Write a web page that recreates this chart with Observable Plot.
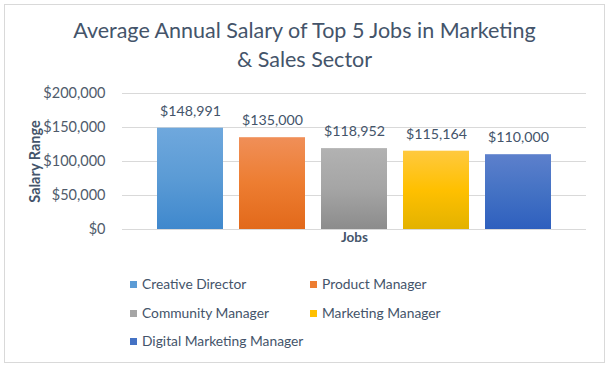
<!DOCTYPE html>
<html>
<head>
<meta charset="utf-8">
<script src="https://cdn.jsdelivr.net/npm/d3@7"></script>
<script src="https://cdn.jsdelivr.net/npm/@observablehq/plot@0.6"></script>
<style>
  html, body { margin: 0; padding: 0; background: #fff; }
  body { width: 612px; height: 370px; position: relative; overflow: hidden; font-family: Lato, "Open Sans", sans-serif; color: #44546a; }
  #frame { position: absolute; left: 4px; top: 4px; width: 601px; height: 359px; box-sizing: border-box; border: 1px solid #d9d9d9; }
  #title { position: absolute; left: 4px; width: 601px; top: 16px; text-align: center; font-size: 21.5px; line-height: 28.5px; color: #44546a; }
  #chart { position: absolute; left: 0; top: 0; }
  .lg { position: absolute; font-size: 13.8px; line-height: 16px; color: #44546a; white-space: nowrap; }
  .lg i { position: absolute; left: -12px; top: 4.5px; width: 7px; height: 7px; }
</style>
</head>
<body>
<div id="frame"></div>
<div id="title">Average Annual Salary of Top 5 Jobs in Marketing<br>&amp; Sales Sector</div>
<div id="chart"></div>
<div id="legend"></div>
<script>
const jobs = ["Creative Director", "Product Manager", "Community Manager", "Marketing Manager", "Digital Marketing Manager"];
const salaries = [148991, 135000, 118952, 115164, 110000];
const yTicks = [0, 50000, 100000, 150000, 200000];
const baseColors = ["#5b9bd5", "#ed7d31", "#a5a5a5", "#ffc000", "#4472c4"];
const topColors = ["#6fa8dd", "#f08f58", "#b2b2b2", "#ffc93f", "#5d80cc"];
const bottomColors = ["#3f88cd", "#e2691a", "#8c8c8c", "#e3b200", "#2e5fbe"];
const yTitle = "Salary Range";
const xTitle = "Jobs";

const data = jobs.map((job, i) => ({job, salary: salaries[i], fill: `url(#grad${i})`}));
const money = d => "$" + d3.format(",")(d);

const svg = Plot.plot({
  width: 612,
  height: 260,
  marginTop: 93,
  marginBottom: 31,
  marginLeft: 122,
  marginRight: 26,
  style: {fontFamily: "Lato, 'Open Sans', sans-serif", color: "#44546a", background: "transparent"},
  x: {type: "band", domain: jobs, range: [147.75, 560.25], paddingInner: 0.2, paddingOuter: 0.1, axis: null},
  y: {domain: [0, 200000], axis: null},
  color: {type: "identity"},
  marks: [
    Plot.gridY(yTicks, {stroke: "#d9d9d9", strokeOpacity: 1}),
    Plot.axisY(yTicks, {tickSize: 0, tickPadding: 17, tickFormat: money, fontSize: 14.5, fill: "#4f5b6b", label: null}),
    Plot.barY(data, {x: "job", y: "salary", fill: "fill"}),
    Plot.text(data, {x: "job", y: "salary", text: d => money(d.salary), dy: -17, fontSize: 14.2, fill: "#44546a"}),
    Plot.text([xTitle], {frameAnchor: "bottom", dy: 12, fontSize: 13.5, fontWeight: "bold", fill: "#44546a"}),
    Plot.text([yTitle], {frameAnchor: "left", dx: -87, rotate: -90, textAnchor: "middle", fontSize: 14.5, fontWeight: "bold", fill: "#44546a"})
  ]
});

const defs = d3.select(svg).insert("defs", ":first-child");
jobs.forEach((_, i) => {
  const g = defs.append("linearGradient").attr("id", `grad${i}`).attr("x1", 0).attr("y1", 0).attr("x2", 0).attr("y2", 1);
  g.append("stop").attr("offset", "0%").attr("stop-color", topColors[i]);
  g.append("stop").attr("offset", "50%").attr("stop-color", baseColors[i]);
  g.append("stop").attr("offset", "100%").attr("stop-color", bottomColors[i]);
});
document.getElementById("chart").appendChild(svg);

// legend: two columns
const legendPos = [[142, 276], [322, 276], [142, 305], [322, 305], [142, 333]];
const legend = document.getElementById("legend");
jobs.forEach((job, i) => {
  const d = document.createElement("div");
  d.className = "lg";
  d.style.left = legendPos[i][0] + "px";
  d.style.top = legendPos[i][1] + "px";
  const sw = document.createElement("i");
  sw.style.background = baseColors[i];
  d.appendChild(sw);
  d.appendChild(document.createTextNode(job));
  legend.appendChild(d);
});
</script>
</body>
</html>
